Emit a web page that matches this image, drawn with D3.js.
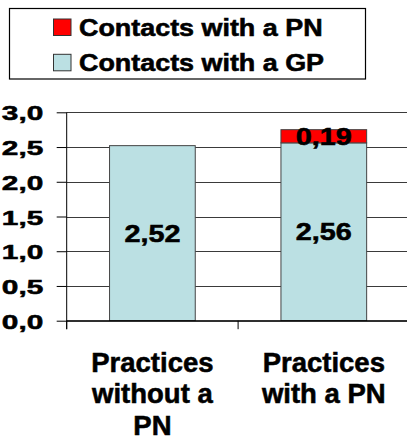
<!DOCTYPE html>
<html>
<head>
<meta charset="utf-8">
<script src="https://cdn.jsdelivr.net/npm/d3@7"></script>
<style>
  body { margin: 0; background: #fff; }
  text { font-family: "Liberation Sans", Arial, sans-serif; font-weight: bold; fill: #000; stroke: #000; stroke-width: 0.55px; }
</style>
</head>
<body>
<svg id="chart" width="407" height="442"></svg>
<script>
// chart data
const categories = ["Practices without a PN", "Practices with a PN"];
const categoryLines = [["Practices", "without a", "PN"], ["Practices", "with a PN"]];
const gpContacts = [2.52, 2.56];
const pnContacts = [0, 0.19];
const seriesKeys = ["gp", "pn"];
const seriesNames = { gp: "Contacts with a GP", pn: "Contacts with a PN" };
const seriesColors = { gp: "#BBE0E3", pn: "#FF0000" };
const legendOrder = ["pn", "gp"];
const yTicks = [0, 0.5, 1, 1.5, 2, 2.5, 3];

const svg = d3.select("#chart");

const plot = { left: 66.7, right: 409.5, top: 112.3, bottom: 320.7 };

const rows = categories.map((c, i) => ({ cat: c, gp: gpContacts[i], pn: pnContacts[i] }));
const stacked = d3.stack().keys(seriesKeys)(rows);

const x = d3.scaleBand()
  .domain(categories)
  .range([plot.left, plot.right])
  .paddingInner(0.5)
  .paddingOuter(0.25);

const y = d3.scaleLinear()
  .domain([0, 3])
  .range([plot.bottom, plot.top]);

const comma = d3.formatLocale({ decimal: ",", thousands: ".", grouping: [3], currency: ["", ""] });
const fmt1 = comma.format(".1f");
const fmt2 = comma.format(".2f");

// gridlines
svg.append("g")
  .selectAll("line")
  .data(yTicks)
  .join("line")
    .attr("x1", plot.left)
    .attr("x2", plot.right)
    .attr("y1", d => Math.round(y(d)) + 0.5)
    .attr("y2", d => Math.round(y(d)) + 0.5)
    .attr("stroke", "#3a3a3a")
    .attr("stroke-width", 1);

// bars
svg.append("g")
  .selectAll("g")
  .data(stacked)
  .join("g")
    .attr("fill", d => seriesColors[d.key])
  .selectAll("rect")
  .data(d => d.filter(s => s[1] - s[0] > 0))
  .join("rect")
    .attr("x", d => x(d.data.cat))
    .attr("y", d => y(d[1]))
    .attr("width", x.bandwidth())
    .attr("height", d => y(d[0]) - y(d[1]))
    .attr("stroke", "#444")
    .attr("stroke-width", 1);

// y axis
const yAxis = d3.axisLeft(y)
  .tickValues(yTicks)
  .tickSize(10)
  .tickFormat(d => fmt1(d))
  .tickPadding(13);

const yg = svg.append("g")
  .attr("transform", `translate(${plot.left},0)`)
  .call(yAxis);
yg.select(".domain").remove();
yg.selectAll(".tick line").attr("stroke", "#000").attr("x2", -10);
yg.selectAll(".tick text")
  .attr("x", null)
  .attr("dy", null)
  .attr("font-size", 21)
  .attr("font-family", "Liberation Sans, Arial, sans-serif")
  .attr("font-weight", "bold")
  .attr("text-anchor", "end")
  .attr("transform", "translate(-23.4,7.5) scale(1.42,1)");

// axis lines
svg.append("line")
  .attr("x1", plot.left).attr("x2", plot.left)
  .attr("y1", plot.top).attr("y2", plot.bottom + 8.5)
  .attr("stroke", "#000");
svg.append("line")
  .attr("x1", plot.left).attr("x2", plot.right)
  .attr("y1", plot.bottom).attr("y2", plot.bottom)
  .attr("stroke", "#000");

// category boundary ticks
const bounds = categories.map(c => x(c) - x.step() * x.paddingOuter()).concat([plot.right]);
svg.append("g")
  .selectAll("line")
  .data(bounds)
  .join("line")
    .attr("x1", d => d).attr("x2", d => d)
    .attr("y1", plot.bottom).attr("y2", plot.bottom + 8.5)
    .attr("stroke", "#000");

// category labels
categoryLines.forEach((lines, i) => {
  const cx = x(categories[i]) + x.bandwidth() / 2;
  svg.append("text")
    .attr("text-anchor", "middle")
    .attr("font-size", 27.5)
    .selectAll("tspan")
    .data(lines)
    .join("tspan")
      .attr("x", cx)
      .attr("y", (d, j) => 371.7 + j * 31.7)
      .text(d => d);
});

// value labels
svg.append("g")
  .selectAll("text")
  .data(stacked.flatMap(s => s.filter(d => d[1] - d[0] > 0)))
  .join("text")
    .attr("text-anchor", "middle")
    .attr("font-size", 23)
    .attr("transform", d => `translate(${x(d.data.cat) + x.bandwidth() / 2},${y((d[0] + d[1]) / 2) + 8.4}) scale(1.25,1)`)
    .text(d => fmt2(d[1] - d[0]));

// legend
const legend = svg.append("g");
legend.append("rect")
  .attr("x", 9.5).attr("y", 8.5)
  .attr("width", 356).attr("height", 70.5)
  .attr("fill", "#fff")
  .attr("stroke", "#000")
  .attr("stroke-width", 1.2);

const item = legend.selectAll("g.item")
  .data(legendOrder)
  .join("g")
    .attr("class", "item")
    .attr("transform", (d, i) => `translate(0,${i * 35.3})`);

item.append("rect")
  .attr("x", 53.5).attr("y", 19)
  .attr("width", 17.5).attr("height", 16.5)
  .attr("fill", d => seriesColors[d])
  .attr("stroke", "#333")
  .attr("stroke-width", 1);

item.append("text")
  .attr("font-size", 23)
  .attr("transform", "translate(79,35.7) scale(1.17,1)")
  .text(d => seriesNames[d]);
</script>
</body>
</html>
